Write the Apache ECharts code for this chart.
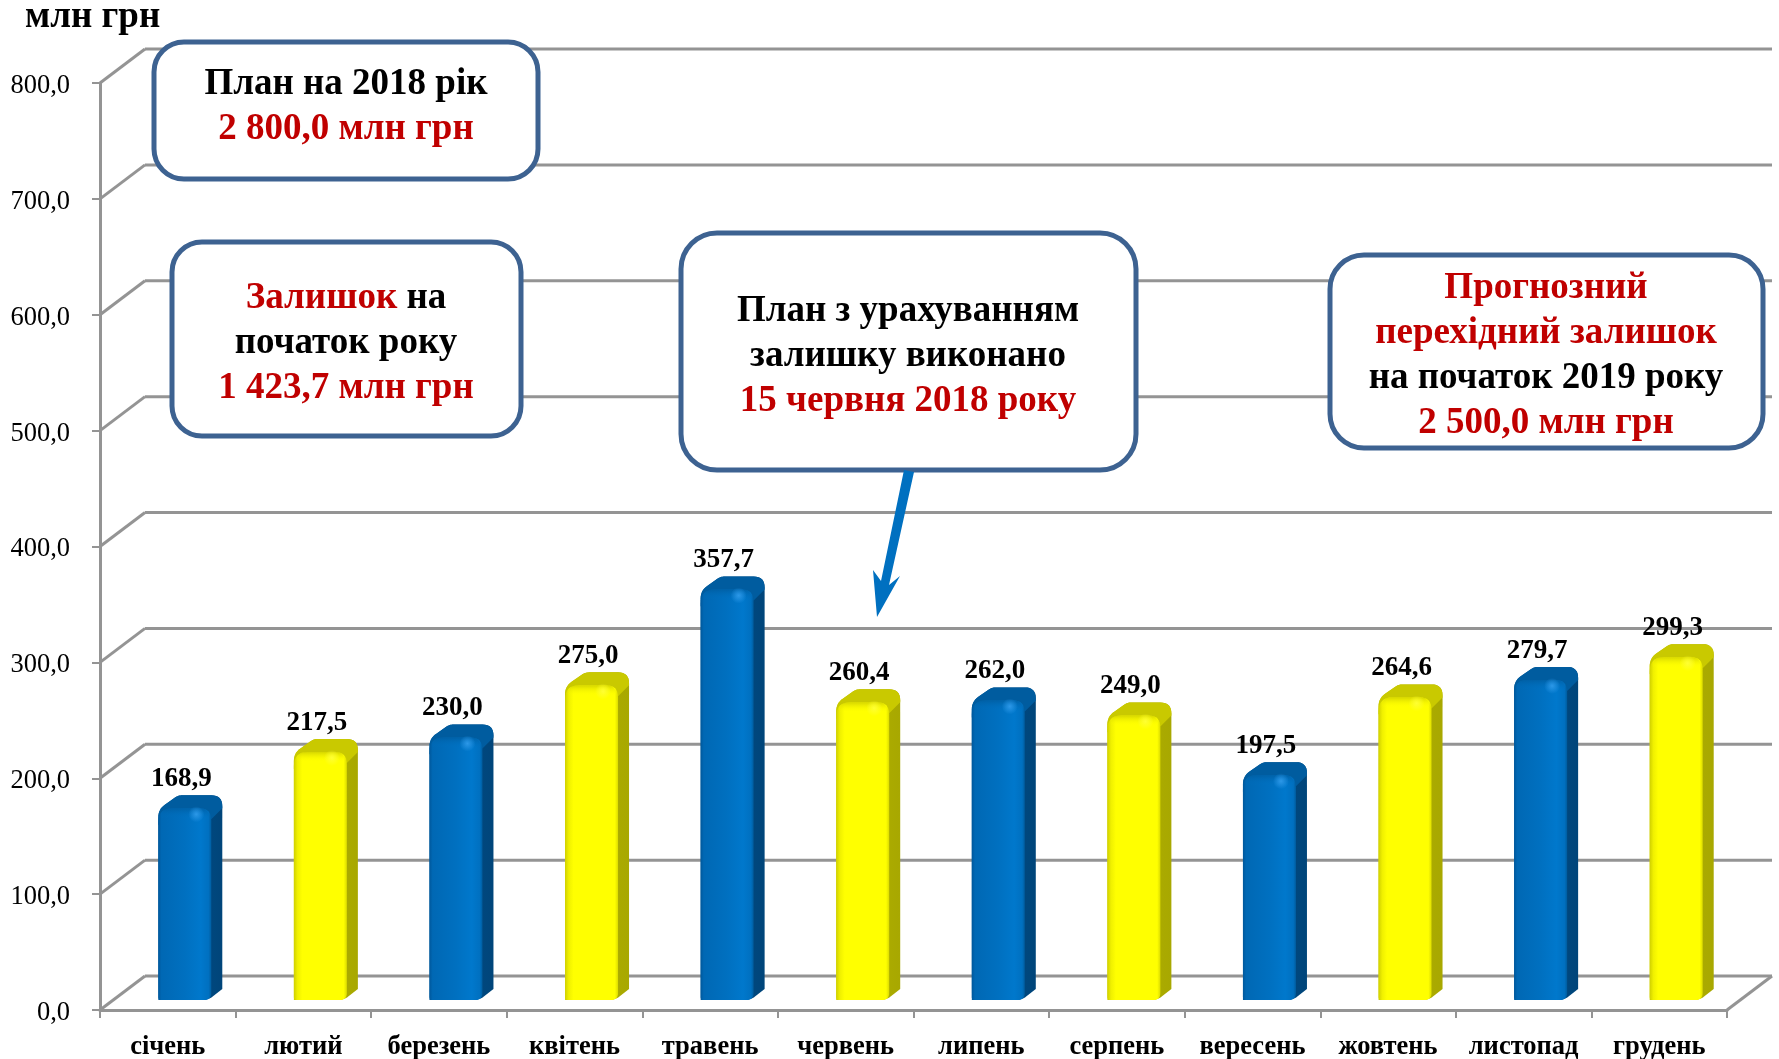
<!DOCTYPE html>
<html><head><meta charset="utf-8">
<style>html,body{margin:0;padding:0;background:#fff}#c{width:1779px;height:1059px}</style>
<script src="https://cdn.jsdelivr.net/npm/echarts@6/dist/echarts.min.js"></script>
</head><body><div id="c"></div>
<script>
const months = ['січень','лютий','березень','квітень','травень','червень','липень','серпень','вересень','жовтень','листопад','грудень'];
const monthValues = [168.9,217.5,230.0,275.0,357.7,260.4,262.0,249.0,197.5,264.6,279.7,299.3];
const gridTicks = [0,100,200,300,400,500,600,700,800];
const unitLabel = 'млн грн';

const SERIF = '"Liberation Serif","Times New Roman",serif';
const GRID = {left:100, top:83, width:1627, height:927};
const WALL = {dx:45, dy:34};
const GRAY = '#949494';

const PAL = [
 {front:[[0,'#00589c'],[0.06,'#0068b4'],[0.5,'#0070c0'],[0.8,'#0078cc'],[0.95,'#0070c0'],[1,'#005c9e']],
  side:[[0,'#005c9e'],[0.4,'#004c86'],[1,'#00457a']], top:'#005c9f', topA:'rgba(0,92,159,0.75)', topZ:'rgba(0,112,192,0)', glow:'#2c98e8'},
 {front:[[0,'#d0d000'],[0.07,'#f0f000'],[0.16,'#ffff00'],[0.94,'#ffff00'],[1,'#dcdc00']],
  side:[[0,'#d0d000'],[0.4,'#b0b000'],[1,'#a8a800']], top:'#c9c900', topA:'rgba(201,201,0,0.75)', topZ:'rgba(255,255,0,0)', glow:'#ffff33'}
];

function lin(stops,vertical){
  return {type:'linear',x:0,y:0,x2:vertical?0:1,y2:vertical?1:0,
    colorStops:stops.map(s=>({offset:s[0],color:s[1]}))};
}
function rounded(pts){
  const out=[], n=pts.length;
  for(let i=0;i<n;i++){
    const p=pts[i], a=pts[(i+n-1)%n], b=pts[(i+1)%n], r=p[2]||0;
    if(!r){out.push([p[0],p[1]]);continue;}
    const la=Math.hypot(a[0]-p[0],a[1]-p[1]), lb=Math.hypot(b[0]-p[0],b[1]-p[1]);
    const s=[p[0]+(a[0]-p[0])*r/la,p[1]+(a[1]-p[1])*r/la];
    const e=[p[0]+(b[0]-p[0])*r/lb,p[1]+(b[1]-p[1])*r/lb];
    for(let t=0;t<=1.0001;t+=0.125){
      const u=1-t;
      out.push([u*u*s[0]+2*u*t*p[0]+t*t*e[0],u*u*s[1]+2*u*t*p[1]+t*t*e[1]]);
    }
  }
  return out;
}

function renderBar(params,api){
  const i=api.value(0), v=api.value(1);
  const base=api.coord([i,0]), head=api.coord([i,v]);
  const cx=base[0]+WALL.dx/2;
  const l=cx-32, R=cx+32, fr=R-11;
  const bot=base[1]-10, top=head[1]-19, ft=top+13;
  const p=PAL[i%2];
  const sil=rounded([[l,bot],[l,top+14,8],[l+20,top,4],[R,top,11],[R,bot-11],[R-14,bot,6]]);
  const topFace=rounded([[l,top+30],[l,top+14,8],[l+20,top,4],[R,top,11],[R,top+13],[fr,top+24],[l+6,top+24]]);
  const front=rounded([[l,bot,3],[l,ft,14],[fr,ft,12],[fr,bot,7]]);
  const children=[
    {type:'polygon',shape:{points:sil},style:{fill:lin(p.side,false)}},
    {type:'polygon',shape:{points:topFace},style:{fill:p.top}},
    {type:'polygon',shape:{points:front},style:{fill:lin(p.front,false)}},
    {type:'rect',shape:{x:l+3,y:ft,width:fr-l-5,height:10,r:[8,8,0,0]},
      style:{fill:{type:'linear',x:0,y:0,x2:0,y2:1,colorStops:[{offset:0,color:p.topA},{offset:1,color:p.topZ}]}}},
    {type:'circle',shape:{cx:fr-15,cy:top+19,r:8},style:{fill:{type:'radial',x:0.5,y:0.5,r:0.5,
      colorStops:[{offset:0,color:p.glow},{offset:1,color:p.glow+'00'}]}}},
    {type:'text',style:{x:cx-9,y:top-16,text:v.toFixed(1).replace('.',','),align:'center',verticalAlign:'middle',
      font:'bold 27px '+SERIF,fill:'#000'}}
  ];
  return {type:'group',children};
}

function renderWall(params,api){
  const cs=params.coordSys, v=api.value(0);
  const p=api.coord([0,v]);
  const x0=cs.x, x1=cs.x+cs.width, y=p[1];
  const st={stroke:GRAY,lineWidth:3,fill:'none'};
  const kids=[
    {type:'line',shape:{x1:x0,y1:y,x2:x0+WALL.dx,y2:y-WALL.dy},style:st},
    {type:'line',shape:{x1:x0+WALL.dx,y1:y-WALL.dy,x2:x1+WALL.dx,y2:y-WALL.dy},style:st}
  ];
  if(v===0) kids.push({type:'line',shape:{x1:x1,y1:y,x2:x1+WALL.dx,y2:y-WALL.dy},style:st});
  return {type:'group',children:kids};
}

function box(x,y,w,h,r){
  return {type:'rect',z:20,shape:{x,y,width:w,height:h,r},
    style:{fill:'#fff',stroke:'#3d6291',lineWidth:5}};
}
function note(cx,cy,text){
  return {type:'text',z:21,x:cx,y:cy,style:{text,align:'center',verticalAlign:'middle',
    font:'bold 37px '+SERIF,fill:'#000',lineHeight:45,
    rich:{k:{font:'bold 37px '+SERIF,fill:'#000',lineHeight:45,align:'center'},
          r:{font:'bold 37px '+SERIF,fill:'#c00000',lineHeight:45,align:'center'}}}};
}

const chart=echarts.init(document.getElementById('c'),null,{renderer:'canvas'});
chart.setOption({
  animation:false,
  backgroundColor:'#ffffff',
  grid:Object.assign({containLabel:false,outerBoundsMode:'none'},GRID),
  xAxis:{type:'category',data:months,boundaryGap:true,
    axisLine:{lineStyle:{color:GRAY,width:3}},
    axisTick:{show:true,length:8,alignWithLabel:false,interval:0,lineStyle:{color:GRAY,width:2}},
    axisLabel:{interval:0,margin:24,fontFamily:SERIF,fontWeight:'bold',fontSize:26.5,color:'#000'}},
  yAxis:{type:'value',min:0,max:800,interval:100,
    axisLine:{show:true,lineStyle:{color:GRAY,width:3}},
    axisTick:{show:true,length:8,lineStyle:{color:GRAY,width:2}},
    splitLine:{show:false},
    axisLabel:{margin:30,fontFamily:SERIF,fontSize:26.5,color:'#000',verticalAlign:'top',lineHeight:6,
      formatter:v=>v.toFixed(1).replace('.',',')}},
  series:[
    {type:'custom',coordinateSystem:'cartesian2d',silent:true,z:1,clip:false,
     data:gridTicks.map(v=>[v,v]),
     encode:{x:-1,y:1},
     renderItem:renderWall,
     dimensions:['v','w']},
    {type:'custom',coordinateSystem:'cartesian2d',silent:true,z:5,clip:false,
     data:monthValues.map((v,i)=>[i,v]),
     encode:{x:0,y:1},
     renderItem:renderBar}
  ],
  graphic:[
    {type:'text',left:25,top:-1,style:{text:unitLabel,font:'bold 37px '+SERIF,fill:'#000'}},
    box(154,42,384,137,30),
    note(346,107,'{k|План на 2018 рік}\n{r|2 800,0 млн грн}'),
    box(172,242,349,194,30),
    note(346,343,'{r|Залишок} {k|на}\n{k|початок року}\n{r|1 423,7 млн грн}'),
    box(681,233,455,237,36),
    note(908,356,'{k|План з урахуванням}\n{k|залишку виконано}\n{r|15 червня 2018 року}'),
    box(1330,255,433,193,34),
    note(1546,356,'{r|Прогнозний}\n{r|перехідний залишок}\n{k|на початок 2019 року}\n{r|2 500,0 млн грн}'),
    {type:'polygon',z:22,shape:{points:[[904,470],[914,472],[889,585],[900,576],[877,617],[873,570],[881,581]]},
     style:{fill:'#0070c0'}}
  ]
});
</script></body></html>
